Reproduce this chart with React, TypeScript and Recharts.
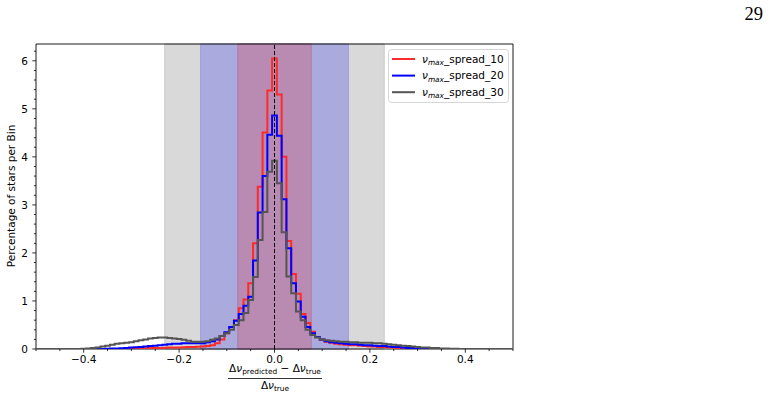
import { ComposedChart, Line, XAxis, YAxis, ReferenceArea, ReferenceLine } from 'recharts';

// bin centres, width 0.01, from -0.5 to 0.5
const binCenters = Array.from({ length: 101 }, (_, i) => (i - 50) / 100);

// percentage of stars per bin, k = -50 .. 50
const spread10 = [
  0, 0, 0, 0, 0, 0, 0, 0, 0, 0,
  0, 0, 0, 0, 0, 0, 0, 0, 0, 0,
  0.005, 0.01, 0.01, 0.015, 0.02, 0.02, 0.02, 0.025, 0.03, 0.03,
  0.03, 0.035, 0.04, 0.04, 0.045, 0.05, 0.06, 0.08, 0.12, 0.2,
  0.33, 0.46, 0.6, 0.85, 1.03, 1.37, 2.2, 3.38, 4.51, 5.38,
  6.05,
  5.3, 4.0, 2.25, 1.56, 1.15, 0.73, 0.54, 0.36, 0.25, 0.19,
  0.15, 0.13, 0.11, 0.1, 0.09, 0.08, 0.08, 0.07, 0.06, 0.05,
  0.05, 0.04, 0.04, 0.03, 0.03, 0.02, 0.02, 0.015, 0.01, 0.01,
  0.005, 0.005, 0, 0, 0, 0, 0, 0, 0, 0,
  0, 0, 0, 0, 0, 0, 0, 0, 0, 0,
];

const spread20 = [
  0, 0, 0, 0, 0, 0, 0, 0, 0, 0,
  0, 0, 0, 0, 0, 0.005, 0.01, 0.01, 0.015, 0.02,
  0.03, 0.035, 0.04, 0.05, 0.06, 0.07, 0.08, 0.09, 0.1, 0.11,
  0.11, 0.12, 0.12, 0.12, 0.12, 0.12, 0.14, 0.16, 0.2, 0.27,
  0.35, 0.46, 0.59, 0.73, 0.9, 1.09, 1.84, 2.84, 3.6, 4.46,
  4.86,
  4.44, 3.12, 2.1, 1.37, 0.99, 0.67, 0.46, 0.33, 0.25, 0.2,
  0.16, 0.14, 0.13, 0.12, 0.11, 0.1, 0.1, 0.09, 0.08, 0.08,
  0.07, 0.06, 0.06, 0.05, 0.04, 0.04, 0.03, 0.02, 0.02, 0.015,
  0.01, 0.005, 0.005, 0, 0, 0, 0, 0, 0, 0,
  0, 0, 0, 0, 0, 0, 0, 0, 0, 0,
];

const spread30 = [
  0, 0, 0, 0, 0, 0, 0, 0, 0, 0,
  0.005, 0.01, 0.02, 0.03, 0.05, 0.07, 0.09, 0.11, 0.12, 0.13,
  0.14, 0.16, 0.18, 0.2, 0.22, 0.23, 0.24, 0.24, 0.23, 0.22,
  0.21, 0.19, 0.17, 0.15, 0.15, 0.15, 0.16, 0.19, 0.22, 0.27,
  0.33, 0.4, 0.5, 0.6, 0.75, 1.02, 1.5, 2.27, 2.85, 3.69,
  3.92,
  3.45, 2.43, 1.51, 1.16, 0.78, 0.6, 0.4, 0.29, 0.24, 0.2,
  0.18, 0.17, 0.16, 0.15, 0.15, 0.14, 0.14, 0.13, 0.13, 0.13,
  0.12, 0.12, 0.11, 0.1, 0.09, 0.08, 0.07, 0.06, 0.05, 0.04,
  0.03, 0.03, 0.02, 0.02, 0.01, 0.01, 0.005, 0.005, 0, 0,
  0, 0, 0, 0, 0, 0, 0, 0, 0, 0,
];

const seriesLabels = ['spread_10', 'spread_20', 'spread_30'];
const seriesKeys = ['spread10', 'spread20', 'spread30'];
const seriesColors = ['#ff2b2b', '#0000ff', '#555555'];

// shaded intervals (half widths) : gray, blue, red
const bandHalfWidths = [0.23, 0.155, 0.077];
const bandFills = ['#d9d9d9', '#aaaadc', '#b98ab2'];
const bandEdges = ['#c8c8c8', '#a0a0d6', '#ad7ea7'];

const xMajorTicks = [-0.4, -0.2, 0, 0.2, 0.4];
const xMinorTicks = [-0.5, -0.45, -0.35, -0.3, -0.25, -0.15, -0.1, -0.05, 0.05, 0.1, 0.15, 0.25, 0.3, 0.35, 0.45, 0.5];
const yMajorTicks = [0, 1, 2, 3, 4, 5, 6];
const yMinorTicks = [
  0.2, 0.4, 0.6, 0.8, 1.2, 1.4, 1.6, 1.8, 2.2, 2.4, 2.6, 2.8, 3.2, 3.4, 3.6, 3.8,
  4.2, 4.4, 4.6, 4.8, 5.2, 5.4, 5.6, 5.8, 6.2,
];

const rows = binCenters.map((x, i) => ({
  x,
  spread10: spread10[i],
  spread20: spread20[i],
  spread30: spread30[i],
}));

const FONT = 'DejaVu Sans';
const isMajor = (list: number[], v: number) => list.some((t) => Math.abs(t - v) < 1e-6);

const fmtX = (v: number) => (Math.abs(v) < 1e-9 ? '0.0' : `${v < 0 ? '\u2212' : ''}${Math.abs(v).toFixed(1)}`);

const XTick = ({ x, y, payload }: any) => {
  const v = payload.value;
  const major = isMajor(xMajorTicks, v);
  return (
    <g>
      <line x1={x} x2={x} y1={y} y2={y + (major ? 3.7 : 2.1)} stroke="#000" strokeWidth={0.8} />
      {major && (
        <text x={x} y={y + 14} textAnchor="middle" fontSize={10.5} fontFamily={FONT} fill="#000">
          {fmtX(v)}
        </text>
      )}
    </g>
  );
};

const YTick = ({ x, y, payload }: any) => {
  const v = payload.value;
  const major = isMajor(yMajorTicks, v);
  return (
    <g>
      <line x1={x - (major ? 3.7 : 2.1)} x2={x} y1={y} y2={y} stroke="#000" strokeWidth={0.8} />
      {major && (
        <text x={x - 8} y={y + 3.8} textAnchor="end" fontSize={10.5} fontFamily={FONT} fill="#000">
          {v}
        </text>
      )}
    </g>
  );
};

export default function App() {
  return (
    <div style={{ position: 'absolute', left: 0, top: 0, width: 776, height: 403, background: '#fff' }}>
      <div style={{ position: 'absolute', left: 0, top: 0 }}>
        <ComposedChart width={776} height={403} data={rows} margin={{ top: 44, right: 263, bottom: 0, left: 0 }}>
          <XAxis
            dataKey="x"
            type="number"
            domain={[-0.5, 0.5]}
            allowDataOverflow
            ticks={[...xMajorTicks, ...xMinorTicks].sort((a, b) => a - b)}
            interval={0}
            tickSize={0}
            tickMargin={0}
            tickLine={false}
            axisLine={false}
            height={54}
            tick={XTick}
          />
          <YAxis
            type="number"
            domain={[0, 6.35]}
            allowDataOverflow
            ticks={[...yMajorTicks, ...yMinorTicks].sort((a, b) => a - b)}
            interval={0}
            tickSize={0}
            tickMargin={0}
            tickLine={false}
            axisLine={false}
            width={36}
            tick={YTick}
          />
          {bandHalfWidths.map((h, i) => (
            <ReferenceArea
              key={`band-${i}`}
              x1={-h}
              x2={h}
              fill={bandFills[i]}
              fillOpacity={1}
              stroke={bandEdges[i]}
              strokeWidth={1}
            />
          ))}
          {seriesKeys.map((key, i) => (
            <Line
              key={key}
              dataKey={key}
              type="step"
              stroke={seriesColors[i]}
              strokeWidth={2}
              dot={false}
              activeDot={false}
              isAnimationActive={false}
            />
          ))}
          <ReferenceLine x={0} stroke="#000" strokeWidth={1} strokeDasharray="4 2" />
          <ReferenceArea x1={-0.5} x2={0.5} y1={0} y2={6.35} fill="none" stroke="#000" strokeWidth={0.9} />
        </ComposedChart>
      </div>
      <svg width={776} height={403} style={{ position: 'absolute', left: 0, top: 0, pointerEvents: 'none' }}>
        <text x={763} y={20} textAnchor="end" fontSize={18.5} fontFamily="Liberation Serif" fill="#000">
          29
        </text>

        <text
          x={15}
          y={196}
          transform="rotate(-90 15 196)"
          textAnchor="middle"
          fontSize={10.5}
          fontFamily={FONT}
          fill="#000"
        >
          Percentage of stars per Bin
        </text>

        <text x={275} y={372} textAnchor="middle" fontSize={10.5} fontFamily={FONT} fill="#000">
          Δ<tspan fontStyle="italic">ν</tspan>
          <tspan fontSize={7.4} dy={2.4}>predicted</tspan>
          <tspan dy={-2.4}> − Δ</tspan>
          <tspan fontStyle="italic">ν</tspan>
          <tspan fontSize={7.4} dy={2.4}>true</tspan>
        </text>
        <line x1={228} x2={322} y1={378.5} y2={378.5} stroke="#000" strokeWidth={0.8} />
        <text x={275} y={389} textAnchor="middle" fontSize={10.5} fontFamily={FONT} fill="#000">
          Δ<tspan fontStyle="italic">ν</tspan>
          <tspan fontSize={7.4} dy={2.4}>true</tspan>
        </text>

        <rect x={388.5} y={49.5} width={120} height={53} rx={3} fill="#fff" fillOpacity={0.8} stroke="#cccccc" strokeWidth={0.8} />
        {seriesLabels.map((label, i) => {
          const y = 59 + i * 16.6;
          return (
            <g key={label}>
              <line x1={392} x2={415} y1={y} y2={y} stroke={seriesColors[i]} strokeWidth={2} />
              <text x={422} y={y + 3.8} fontSize={10.5} fontFamily={FONT} fill="#000">
                <tspan fontStyle="italic">ν</tspan>
                <tspan fontStyle="italic" fontSize={7.4} dy={2.2}>max</tspan>
                <tspan dy={-2.2}>_{label}</tspan>
              </text>
            </g>
          );
        })}
      </svg>
    </div>
  );
}
